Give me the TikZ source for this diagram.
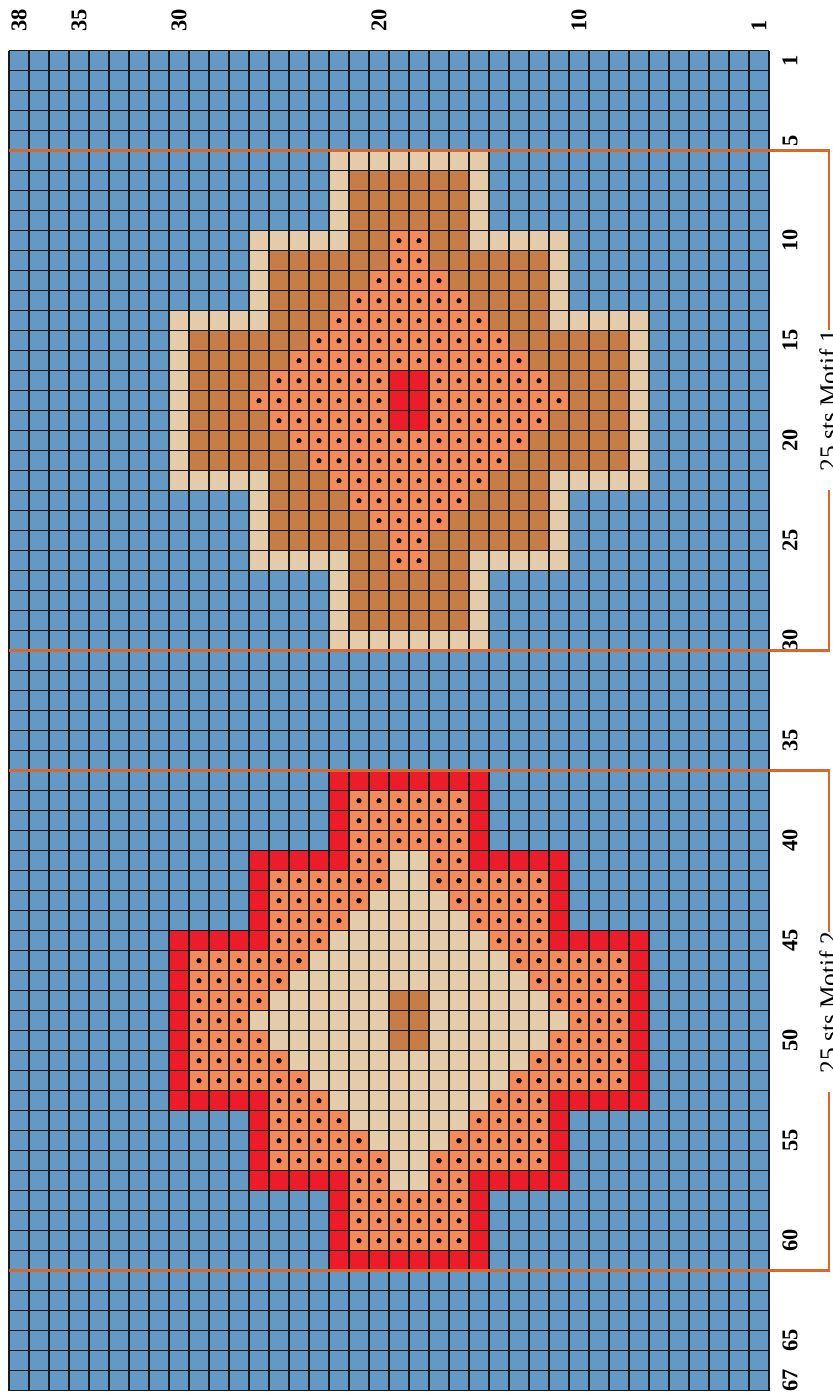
\documentclass[tikz,border=0pt]{standalone}
\usepackage{fontspec}
\setmainfont{Liberation Serif}
\definecolor{bgblue}{RGB}{99,153,196}
\definecolor{beige}{RGB}{228,203,170}
\definecolor{brown}{RGB}{199,125,70}
\definecolor{peach}{RGB}{244,138,88}
\definecolor{brightred}{RGB}{237,28,43}
\definecolor{orline}{RGB}{218,104,44}
\begin{document}
\begin{tikzpicture}[x=0.5cm,y=0.5cm,
  gridline/.style={draw=black!90,line width=0.8pt},
  bracket/.style={draw=orline,line width=1.8pt,line join=miter},
  collab/.style={rotate=90,anchor=west,inner sep=0pt,font=\bfseries\fontsize{16}{16}\selectfont},
  rowlab/.style={rotate=90,inner sep=0pt,font=\bfseries\fontsize{16}{16}\selectfont},
  motiflab/.style={rotate=90,anchor=north,inner sep=0pt,font=\fontsize{18}{18}\selectfont},
  stdot/.style={fill=black}]
\useasboundingbox (-0.45,-67.115) rectangle (41.2,2.535);
\fill[bgblue] (0,0) rectangle (38,-67);
% ---- Motif 1 (rows 6-30) ----
\begin{scope}[shift={(0,-5)}]
  \fill[beige] (16,0) rectangle (24,-25) (12,-4) rectangle (28,-21) (8,-8) rectangle (32,-17);
  \fill[brown] (17,-1) rectangle (23,-24) (13,-5) rectangle (27,-20) (9,-9) rectangle (31,-16);
  \foreach \i/\h in {4/1,5/1,6/2,7/3,8/4,9/5,10/6,11/7,12/8,13/7,14/6,15/5,16/4,17/3,18/2,19/1,20/1}{
    \fill[peach] ({20-\h},-\i) rectangle ({20+\h},-\i-1);
    \pgfmathtruncatemacro{\a}{20-\h}
    \pgfmathtruncatemacro{\b}{19+\h}
    \foreach \c in {\a,...,\b} \fill[stdot] (\c+0.5,-\i-0.5) circle (0.13);
  }
  \fill[brightred] (19,-11) rectangle (21,-14);
\end{scope}
% ---- Motif 2 (rows 37-61) ----
\begin{scope}[shift={(0,-36)}]
  \fill[brightred] (16,0) rectangle (24,-25) (12,-4) rectangle (28,-21) (8,-8) rectangle (32,-17);
  \fill[peach] (17,-1) rectangle (23,-24) (13,-5) rectangle (27,-20) (9,-9) rectangle (31,-16);
  \foreach \i in {1,...,23} \foreach \c in {17,...,22} \fill[stdot] (\c+0.5,-\i-0.5) circle (0.13);
  \foreach \i in {5,...,19} \foreach \c in {13,...,26} \fill[stdot] (\c+0.5,-\i-0.5) circle (0.13);
  \foreach \i in {9,...,15} \foreach \c in {9,...,30} \fill[stdot] (\c+0.5,-\i-0.5) circle (0.13);
  \foreach \i/\h in {4/1,5/1,6/2,7/3,8/4,9/5,10/6,11/7,12/8,13/7,14/6,15/5,16/4,17/3,18/2,19/1,20/1}{
    \fill[beige] ({20-\h},-\i) rectangle ({20+\h},-\i-1);
  }
  \fill[brown] (19,-11) rectangle (21,-14);
\end{scope}
% ---- grid ----
\draw[gridline,step=0.5cm] (0,0) grid (38,-67);
% ---- column labels ----
\foreach \n in {38,35,30,20,10,1}{
  \node[collab] (c\n) at ({38-\n+0.5},0.935) {\n};
}
% ---- row labels ----
\foreach \r in {1,5,10,15,20,25,30,35,40,45,50,55,60,65,67}{
  \node[rowlab] (r\r) at (39.05,{-\r+0.5}) {\r};
}
% ---- motif brackets ----
\coordinate (l5) at (0,-5);   \coordinate (e5) at (41,-5);
\coordinate (l30) at (0,-30); \coordinate (e30) at (41,-30);
\coordinate (l36) at (0,-36); \coordinate (e36) at (41,-36);
\coordinate (l61) at (0,-61); \coordinate (e61) at (41,-61);
\node[motiflab] (m1) at (40.5,-17.5) {25 sts Motif 1};
\node[motiflab] (m2) at (40.5,-47.6) {25 sts Motif 2};
\draw[bracket] (l5) -- (e5) -- (e5 |- m1.east);
\draw[bracket] ([yshift=-0.45cm]e30 |- m1.west) -- (e30) -- (l30);
\draw[bracket] (l36) -- (e36) -- (e36 |- m2.east);
\draw[bracket] ([yshift=-0.45cm]e61 |- m2.west) -- (e61) -- (l61);
\end{tikzpicture}
\end{document}
